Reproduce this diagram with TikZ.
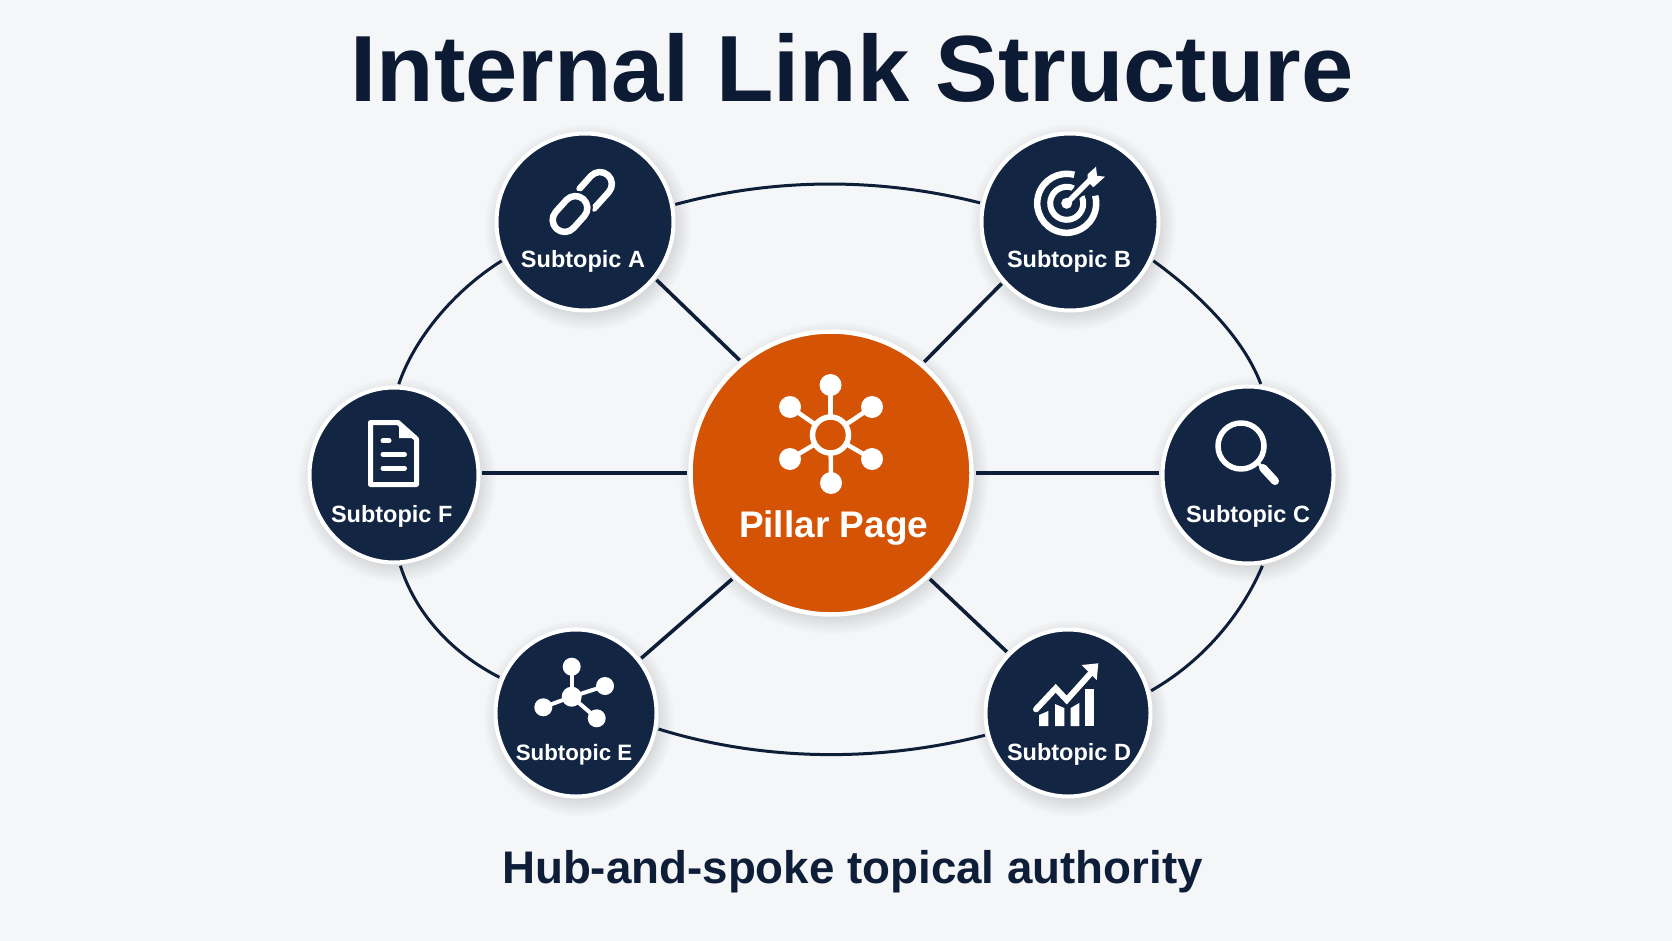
\documentclass[tikz,border=0pt]{standalone}
\usepackage{fontspec}
\setmainfont{Liberation Sans}
\usetikzlibrary{shapes.geometric,calc}
\definecolor{bgc}{HTML}{F4F6F8}
\definecolor{navy}{HTML}{122644}
\definecolor{ink}{HTML}{0C1B33}
\definecolor{orng}{HTML}{D55304}
\newcommand{\softshadow}[4]{%
  \foreach \k in {0,...,9}{%
    \fill[black,opacity=0.01] ({#1+3},{#2+5}) ellipse [x radius={#3+14-1.8*\k}, y radius={#4+14-1.8*\k}];
  }}
\tikzset{
  hub/.style={shape=ellipse,inner sep=0pt,outer sep=3.5pt,draw=white,line width=4pt,fill=navy},
  centre/.style={shape=ellipse,inner sep=0pt,outer sep=4pt,draw=white,line width=4.5pt,fill=orng},
  spoke/.style={draw=ink!70!navy,line width=3.6pt},
  ring/.style={draw=ink!70!navy,line width=3pt},
  ico/.style={draw=white,fill=none,line width=5pt,line cap=round,line join=round},
  icofill/.style={fill=white,draw=none},
  sublabel/.style={text=white,font=\fontsize{23.5}{28}\selectfont\bfseries,anchor=base,inner sep=0pt},
}
\begin{document}
\begin{tikzpicture}[x=1pt,y=-1pt]
\useasboundingbox (0,0) rectangle (1672,941);
\fill[bgc] (0,0) rectangle (1672,941);
% shadows
\softshadow{585}{222}{89}{89}
\softshadow{1070}{222}{89}{89}
\softshadow{1248}{475}{86}{89}
\softshadow{1068}{713}{83}{84}
\softshadow{576}{713}{81}{84}
\softshadow{394}{475}{85}{88}
\softshadow{831}{473}{141}{142}
% nodes
\node[hub,minimum width=177pt,minimum height=177pt] (A) at (585,222) {};
\node[hub,minimum width=177pt,minimum height=177pt] (B) at (1070,222) {};
\node[hub,minimum width=171pt,minimum height=177pt] (C) at (1248,475) {};
\node[hub,minimum width=165pt,minimum height=167pt] (D) at (1068,713) {};
\node[hub,minimum width=161pt,minimum height=167pt] (E) at (576,713) {};
\node[hub,minimum width=169pt,minimum height=175pt] (F) at (394,475) {};
\node[centre,minimum width=281pt,minimum height=283pt] (P) at (831,473) {};
% spokes
\draw[spoke] (A.-39) -- (P.129);
\draw[spoke] (B.222) -- (P.50.5);
\draw[spoke] (P.west) -- (P.west -| F.east);
\draw[spoke] (P.east) -- (P.east -| C.west);
\draw[spoke] (E.40) -- (P.227);
\draw[spoke] (D.135.5) -- (P.-47);
% ring
\draw[ring] (A.11) .. controls (775,177.5) and (880,177.5) .. (B.168);
\draw[ring] (B.-25) .. controls (1198,293) and (1243,337) .. (C.82);
\draw[ring] (C.-81) .. controls (1243,612) and (1205,660) .. (D.15.7);
\draw[ring] (D.195.7) .. controls (880,762) and (765,762) .. (E.-11.7);
\draw[ring] (E.155) .. controls (450,652) and (415,612) .. (F.-86);
\draw[ring] (F.87.5) .. controls (415,337) and (455,290) .. (A.205);
% icon: chain (A)
\begin{scope}[shift={(594.5,190)},rotate=48]
  \draw[ico,line width=6.5pt] (-9,-12) -- (8,-12) arc[start angle=-90,end angle=90,radius=12] -- (-14,12);
\end{scope}
\begin{scope}[shift={(570,214)},rotate=48]
  \draw[navy,line width=11pt] (-8,-12) -- (8,-12) arc[start angle=-90,end angle=90,radius=12] -- (-8,12) arc[start angle=90,end angle=270,radius=12] -- cycle;
  \draw[ico,line width=6.5pt] (-8,-12) -- (8,-12) arc[start angle=-90,end angle=90,radius=12] -- (-8,12) arc[start angle=90,end angle=270,radius=12] -- cycle;
\end{scope}
% icon: target (B)
\draw[draw=white,line width=6.5pt] (1066.7,203.3) ++(-75:29.5) arc[start angle=-75,end angle=-375,radius=29.5];
\draw[draw=white,line width=6pt] (1066.7,203.3) ++(-65:16.5) arc[start angle=-65,end angle=-385,radius=16.5];
\draw[navy,line width=11pt] (1074,196) -- (1092,178);
\fill[white] (1066.7,203.3) circle[radius=5.5];
\draw[white,line width=5.5pt] (1066.7,203.3) -- (1092,178);
\fill[white] (1096,166.7) -- (1087.7,174.3) -- (1087.7,181.7) -- (1093.3,187.3) -- (1105,176.7) -- (1097,175.7) -- cycle;
% icon: magnifier (C)
\draw[ico,line width=5.5pt] (1241,446) circle[radius=23];
\draw[white,line width=3.5pt] (1257,462) -- (1263,468);
\draw[white,line width=8pt,line cap=round] (1263,468) -- (1275,481);
% icon: chart (D)
\fill[white] (1039,726) -- (1039,715) -- (1048.3,711) -- (1048.3,726) -- cycle;
\fill[white] (1055,726) -- (1055,704) -- (1064.3,708) -- (1064.3,726) -- cycle;
\fill[white] (1070.7,726) -- (1070.7,708) -- (1079.3,703) -- (1079.3,726) -- cycle;
\fill[white] (1085,726) -- (1085,689.3) -- (1094.3,689.3) -- (1094.3,726) -- cycle;
\draw[navy,line width=11pt,line join=miter] (1036,709.3) -- (1055.7,688.3) -- (1066.7,700) -- (1090,674);
\draw[ico,line width=6pt,line cap=round,line join=miter] (1036,709.3) -- (1055.7,688.3) -- (1066.7,700) -- (1090,674);
\fill[white] (1098.3,663.3) -- (1081.7,665) -- (1096.7,680) -- cycle;
% icon: network (E)
\draw[white,line width=4pt] (571.7,696.7) -- (571.7,666.7);
\draw[white,line width=4pt] (571.7,696.7) -- (605,686);
\draw[white,line width=4pt] (571.7,696.7) -- (596.7,718.3);
\draw[white,line width=4pt] (571.7,696.7) -- (543.3,707.3);
\fill[white] (571.7,696.7) circle[radius=10];
\fill[white] (571.7,666.7) circle[radius=9];
\fill[white] (605,686) circle[radius=9];
\fill[white] (596.7,718.3) circle[radius=9];
\fill[white] (543.3,707.3) circle[radius=9];
% icon: document (F)
\draw[ico] (398,422.5) -- (370.5,422.5) -- (370.5,484.5) -- (416.5,484.5) -- (416.5,439) -- cycle;
\fill[white] (399,423) -- (399,438) -- (415,438) -- cycle;
\draw[white,line width=5pt,line cap=round] (383,440.7) -- (389,440.7);
\draw[white,line width=5pt,line cap=round] (383,454.3) -- (404.5,454.3);
\draw[white,line width=5pt,line cap=round] (383,468.3) -- (404.5,468.3);
% icon: hub (P)
\foreach \px/\py in {830.5/385,790/407,872/407,790/459,872/459,831/483}{
  \draw[white,line width=4.5pt] (830.5,435) -- (\px,\py);
  \fill[white] (\px,\py) circle[radius=11];
}
\draw[white,fill=orng,line width=5.5pt] (830.5,435) circle[radius=18];
% labels
\node[sublabel] (la) at (583,268) {Subtopic A};
\node[sublabel] (lb) at (1069,268) {Subtopic B};
\node[sublabel] (lc) at (1248,522.7) {Subtopic C};
\node[sublabel] (ld) at (1069,760) {Subtopic D};
\node[sublabel,font=\fontsize{22.3}{28}\selectfont\bfseries] (le) at (574,760) {Subtopic E};
\node[sublabel] (lf) at (391.7,522.7) {Subtopic F};
\node[text=white,font=\fontsize{37}{44}\selectfont\bfseries,anchor=base,inner sep=0pt] (lp) at (833.6,537.7) {Pillar Page};
\node[text=ink,font=\fontsize{94}{110}\selectfont\bfseries,anchor=base,inner sep=0pt] (title) at (852,101.5) {Internal Link Structure};
\node[text=ink!70!navy,font=\fontsize{45.7}{54}\selectfont\bfseries,anchor=base,inner sep=0pt] (sub) at (852.5,883) {Hub-and-spoke topical authority};
\end{tikzpicture}
\end{document}
